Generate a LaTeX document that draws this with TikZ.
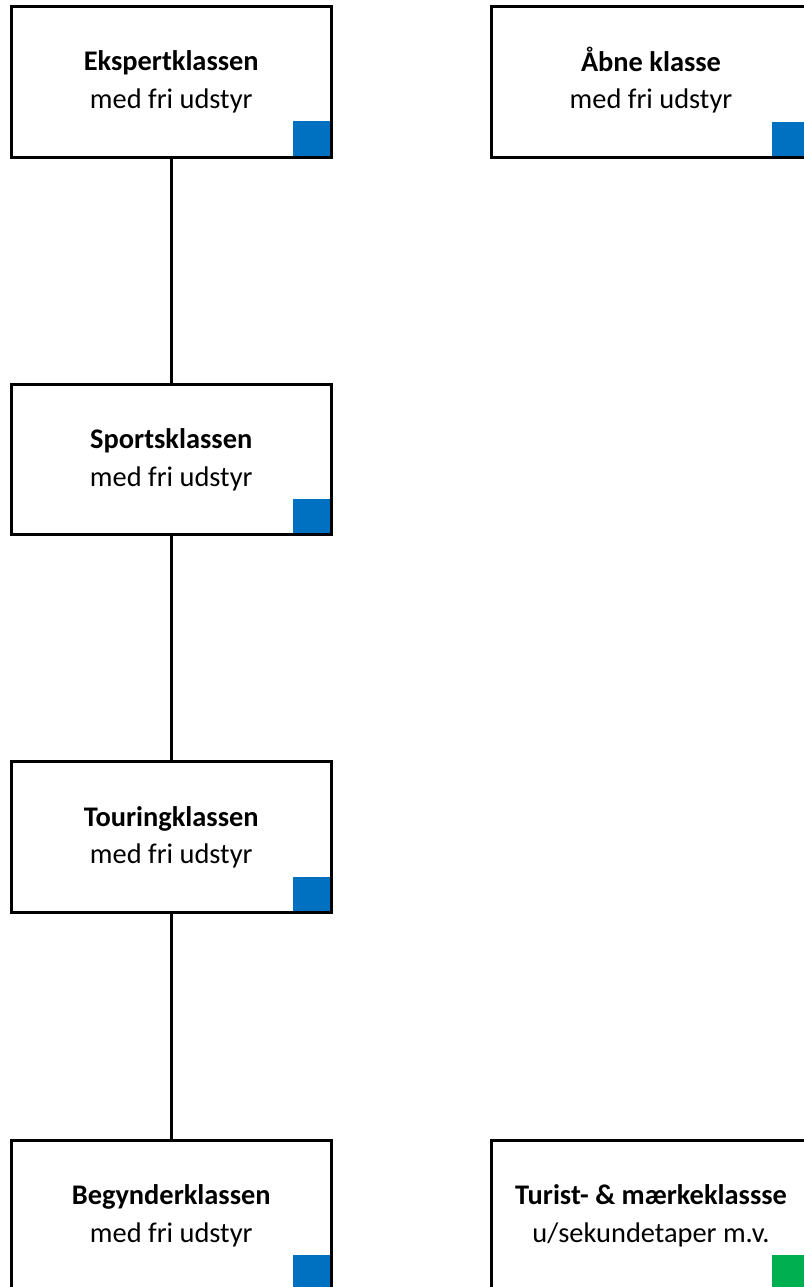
\documentclass[tikz,border=0pt]{standalone}
\usepackage{fontspec}
\setmainfont{Carlito}
\usetikzlibrary{backgrounds}
\definecolor{mblue}{HTML}{0070C0}
\definecolor{mgreen}{HTML}{00B050}
\tikzset{
  classbox/.style={draw=black, line width=3pt, minimum width=319.5pt, minimum height=150.5pt, inner sep=0pt},
  title/.style={anchor=base, inner sep=0pt, font=\fontsize{28.4}{34}\selectfont\bfseries},
  sub/.style={anchor=base, inner sep=0pt, font=\fontsize{28.4}{34}\selectfont},
  link/.style={draw=black, line width=3pt},
}
\newcommand{\markbox}[2]{\fill[#2] ([xshift=-40pt]#1.south east) rectangle ([yshift=37pt]#1.south east);}
\begin{document}
\begin{tikzpicture}[x=1pt,y=-1pt]
\useasboundingbox (0,0) rectangle (803,1287);
\node[classbox] (eks) at (171.25,81.75) {};
\node[classbox] (abn) at (651,82) {};
\node[classbox] (spo) at (171.25,459.25) {};
\node[classbox] (tou) at (171.25,837) {};
\node[classbox] (beg) at (171.25,1215.25) {};
\node[classbox] (tur) at (651,1215.25) {};
\begin{pgfonlayer}{background}
\markbox{eks}{mblue}
\markbox{abn}{mblue}
\markbox{spo}{mblue}
\markbox{tou}{mblue}
\markbox{beg}{mblue}
\markbox{tur}{mgreen}
\end{pgfonlayer}
\foreach \n/\t/\s in {eks/Ekspertklassen/med fri udstyr, abn/Åbne klasse/med fri udstyr, spo/Sportsklassen/med fri udstyr, tou/Touringklassen/med fri udstyr, beg/Begynderklassen/med fri udstyr, tur/Turist- \& mærkeklassse/u\slash sekundetaper m.v.}{
  \node[title] (\n-t) at ([yshift=-65.8pt]\n.north) {\t};
  \node[sub] (\n-s) at ([yshift=-103.5pt]\n.north) {\s};
}
\draw[link] (eks.south) -- (spo.north);
\draw[link] (spo.south) -- (tou.north);
\draw[link] (tou.south) -- (beg.north);
\end{tikzpicture}
\end{document}
